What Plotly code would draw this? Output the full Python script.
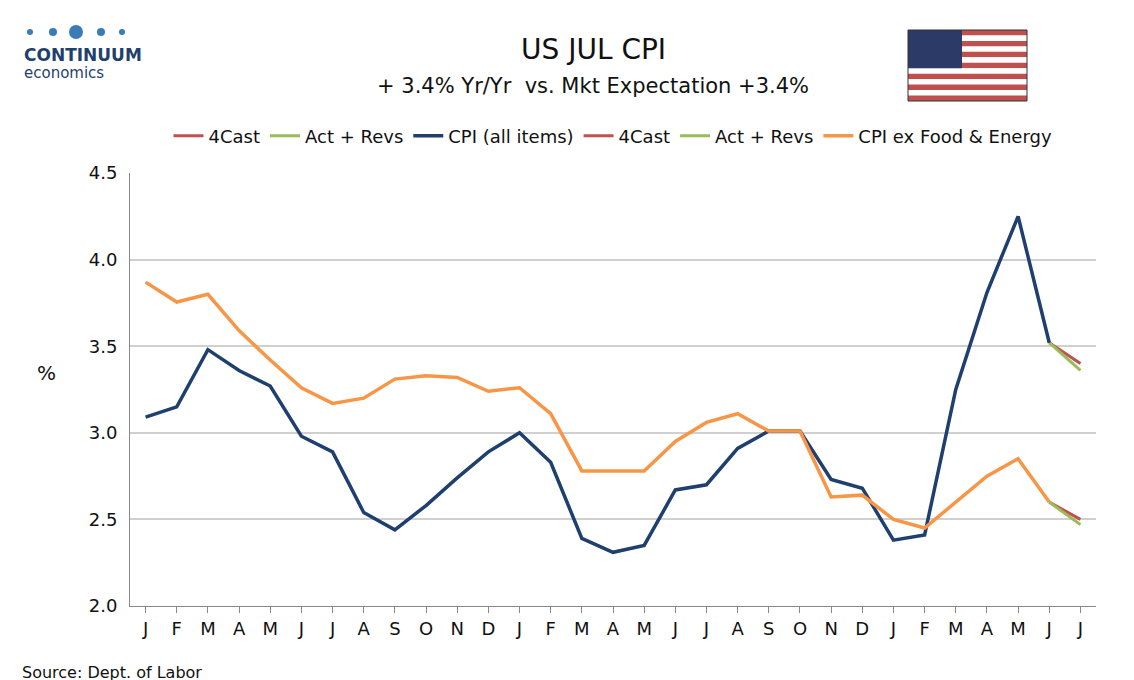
import plotly.graph_objects as go

months = list("JFMAMJJASOND") * 2 + list("JFMAMJJ")
cpi = [3.09,3.15,3.48,3.36,3.27,2.98,2.89,2.54,2.44,2.58,2.74,2.89,3.00,2.83,2.39,2.31,2.35,2.67,2.70,2.91,3.01,3.01,2.73,2.68,2.38,2.41,3.25,3.81,4.25,3.52]
core = [3.87,3.755,3.80,3.59,3.42,3.26,3.17,3.20,3.31,3.33,3.32,3.24,3.26,3.11,2.78,2.78,2.78,2.95,3.06,3.11,3.01,3.01,2.63,2.64,2.50,2.45,2.60,2.75,2.85,2.60]
cpi_fc = [3.52, 3.40]
cpi_act = [3.52, 3.36]
core_fc = [2.60, 2.50]
core_act = [2.60, 2.47]

RED, GREEN, NAVY, ORANGE = "#C0504D", "#9BBB59", "#1F3F6E", "#F79646"
x = list(range(len(cpi)))
xe = [len(cpi) - 1, len(cpi)]

fig = go.Figure()
fig.add_trace(go.Scatter(x=xe, y=cpi_fc, name="4Cast", mode="lines", line=dict(color=RED, width=3)))
fig.add_trace(go.Scatter(x=xe, y=cpi_act, name="Act + Revs", mode="lines", line=dict(color=GREEN, width=3)))
fig.add_trace(go.Scatter(x=x, y=cpi, name="CPI (all items)", mode="lines", line=dict(color=NAVY, width=3.5)))
fig.add_trace(go.Scatter(x=xe, y=core_fc, name="4Cast", mode="lines", line=dict(color=RED, width=3)))
fig.add_trace(go.Scatter(x=xe, y=core_act, name="Act + Revs", mode="lines", line=dict(color=GREEN, width=3)))
fig.add_trace(go.Scatter(x=x, y=core, name="CPI ex Food & Energy", mode="lines", line=dict(color=ORANGE, width=3.5)))

font = "DejaVu Sans"
L, R, T, B = 122, 1088, 165, 598
def px(xp): return (xp - L) / (R - L)
def py(yp): return (B - yp) / (B - T)

shapes = []
fx0, fx1, fy0, fy1 = 900, 1019, 22, 93
sh = (fy1 - fy0) / 13
for i in range(13):
    shapes.append(dict(type="rect", xref="paper", yref="paper", x0=px(fx0), x1=px(fx1),
                       y0=py(fy0 + (i + 1) * sh), y1=py(fy0 + i * sh), line=dict(width=0),
                       fillcolor=RED if i % 2 == 0 else "white", layer="above"))
shapes.append(dict(type="rect", xref="paper", yref="paper", x0=px(fx0), x1=px(fx0 + 54),
                   y0=py(fy0 + 7 * sh), y1=py(fy0), line=dict(width=0), fillcolor="#2B3A67", layer="above"))
shapes.append(dict(type="rect", xref="paper", yref="paper", x0=px(fx0), x1=px(fx1),
                   y0=py(fy1), y1=py(fy0), line=dict(width=1, color="#333"), layer="above"))
for cx, r in [(22, 3), (45, 4), (68, 7), (93, 4), (114, 3)]:
    shapes.append(dict(type="circle", xref="paper", yref="paper", x0=px(cx - r), x1=px(cx + r),
                       y0=py(24 + r), y1=py(24 - r), line=dict(width=0), fillcolor="#3A7CB8"))

def ann(text, xp, yp, size, anchor="center", color="#111"):
    return dict(text=text, x=px(xp), y=py(yp), xref="paper", yref="paper", xanchor=anchor,
                yanchor="middle", showarrow=False, font=dict(size=size, color=color, family=font))

annotations = [
    ann("US JUL CPI", 585, 42, 28),
    ann("+ 3.4% Yr/Yr  vs. Mkt Expectation +3.4%", 585, 78, 21),
    ann("%", 38, 365, 20),
    ann("Source: Dept. of Labor", 12, 664, 16, "left"),
    ann("<b>CONTINUUM</b>", 14, 47, 17, "left", "#1F3F6E"),
    ann("economics", 14, 65, 15, "left", "#1F3F6E"),
]

fig.update_layout(
    width=1134, height=680, paper_bgcolor="white", plot_bgcolor="white",
    margin=dict(l=L, r=1134 - R, t=T, b=680 - B),
    font=dict(family=font, size=18, color="#111"),
    showlegend=True,
    legend=dict(orientation="h", x=0.5, xanchor="center", y=1 - 128 / 680, yanchor="middle", yref="container",
                font=dict(size=18), itemwidth=30, tracegroupgap=0),
    xaxis=dict(range=[-0.5, 30.5], tickvals=list(range(31)), ticktext=months, showgrid=False,
               showline=True, linecolor="#888", ticks="outside", tickcolor="#888", ticklen=6,
               tickfont=dict(size=18), zeroline=False, automargin=False),
    yaxis=dict(range=[2.0, 4.5], dtick=0.5, tickformat=".1f", showgrid=True, gridcolor="#D0D0D0", gridwidth=2,
               showline=True, linecolor="#888", tickfont=dict(size=18), ticks="", zeroline=False,
               automargin=False, ticklabelstandoff=8),
    shapes=shapes, annotations=annotations,
)
fig.write_html("out.html")
